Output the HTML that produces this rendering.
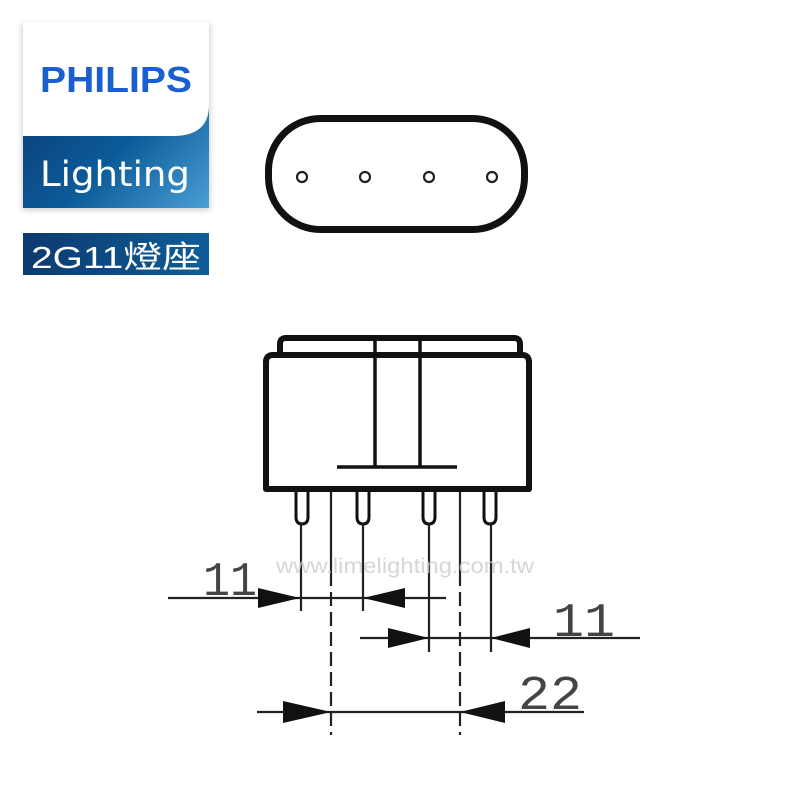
<!DOCTYPE html>
<html><head><meta charset="utf-8"><style>
body{margin:0;background:#fff;width:800px;height:800px;overflow:hidden;position:relative}
</style></head><body>
<svg width="800" height="800" viewBox="0 0 800 800" xmlns="http://www.w3.org/2000/svg" style="position:absolute;left:0;top:0">
<defs>
<linearGradient id="g" x1="0" y1="0" x2="1" y2="1">
<stop offset="0" stop-color="#0c2f66"/><stop offset="0.6" stop-color="#0b5a98"/><stop offset="1" stop-color="#4a9fd4"/>
</linearGradient>
<linearGradient id="g2" x1="0" y1="0" x2="1" y2="0">
<stop offset="0" stop-color="#0c3a70"/><stop offset="1" stop-color="#0e5d98"/>
</linearGradient>
<filter id="sh" x="-10%" y="-10%" width="120%" height="120%"><feGaussianBlur stdDeviation="3"/></filter>
</defs>
<!-- logo -->
<rect x="22" y="24" width="188" height="186" fill="#ccc" filter="url(#sh)"/>
<rect x="23" y="22" width="186" height="186" fill="url(#g)"/>
<path d="M23 22 H209 V105 Q209 135 175 136 H23 Z" fill="#fff"/>
<text x="40" y="92" font-family="Liberation Sans, sans-serif" font-weight="bold" font-size="36" fill="#1a5fd0" textLength="152" lengthAdjust="spacingAndGlyphs">PHILIPS</text>
<text x="40" y="186" font-family="DejaVu Sans, sans-serif" font-size="35" fill="#fff" textLength="150" lengthAdjust="spacingAndGlyphs">Lighting</text>
<rect x="23" y="233" width="186" height="42" fill="url(#g2)"/>
<text x="31" y="268" font-family="Liberation Sans, Noto Sans CJK TC, sans-serif" font-size="31" fill="#fff" textLength="170" lengthAdjust="spacingAndGlyphs">2G11燈座</text>
<!-- top view -->
<rect x="268.5" y="118.5" width="256" height="111" rx="52" fill="none" stroke="#111" stroke-width="7"/>
<g fill="none" stroke="#222" stroke-width="2.2">
<circle cx="302" cy="177" r="5"/><circle cx="365" cy="177" r="5"/><circle cx="429" cy="177" r="5"/><circle cx="492" cy="177" r="5"/>
</g>
<!-- base -->
<g fill="none" stroke="#111" stroke-width="6" stroke-linejoin="round">
<path d="M280 356 V344 Q280 338 286 338 H514 Q520 338 520 344 V356"/>
<path d="M266 362 Q266 355 273 355 H522 Q529 355 529 362 V489 H266 Z"/>
</g>
<g stroke="#111" stroke-width="3.5">
<line x1="375" y1="340" x2="375" y2="467"/><line x1="420" y1="340" x2="420" y2="467"/>
<line x1="337" y1="467" x2="457" y2="467"/>
</g>
<g fill="none" stroke="#111" stroke-width="3">
<path d="M296 492 V517 Q296 524 302 524 Q308 524 308 517 V492"/>
<path d="M357 492 V517 Q357 524 363 524 Q369 524 369 517 V492"/>
<path d="M423 492 V517 Q423 524 429 524 Q435 524 435 517 V492"/>
<path d="M484 492 V517 Q484 524 490 524 Q496 524 496 517 V492"/>
</g>
<g stroke="#222" stroke-width="2.2">
<line x1="301" y1="524" x2="301" y2="611"/>
<line x1="363" y1="524" x2="363" y2="611"/>
<line x1="429" y1="524" x2="429" y2="652"/>
<line x1="491" y1="524" x2="491" y2="652"/>
<line x1="331" y1="492" x2="331" y2="572"/>
<line x1="460" y1="492" x2="460" y2="572"/>
<line x1="331" y1="572" x2="331" y2="735" stroke-dasharray="14 6"/>
<line x1="460" y1="572" x2="460" y2="735" stroke-dasharray="14 6"/>
<line x1="168" y1="598" x2="446" y2="598"/>
<line x1="360" y1="638" x2="640" y2="638"/>
<line x1="257" y1="712" x2="584" y2="712"/>
</g>
<g fill="#111">
<polygon points="258,588 300,598 258,608"/>
<polygon points="405,588 363,598 405,608"/>
<polygon points="388,628 429,638 388,648"/>
<polygon points="530,628 491,638 530,648"/>
<polygon points="283,701 331,712 283,723"/>
<polygon points="505,701 460,712 505,723"/>
</g>
<g font-family="Liberation Mono, monospace" font-size="48" fill="#444">
<text x="203" y="595" textLength="54" lengthAdjust="spacingAndGlyphs">11</text>
<text x="553" y="636" textLength="62" lengthAdjust="spacingAndGlyphs">11</text>
<text x="518" y="709" textLength="64" lengthAdjust="spacingAndGlyphs">22</text>
</g>
<text x="276" y="573" font-family="Liberation Sans, sans-serif" font-size="21" fill="#ccc" fill-opacity="0.8" textLength="258" lengthAdjust="spacingAndGlyphs">www.limelighting.com.tw</text>
</svg>
</body></html>
